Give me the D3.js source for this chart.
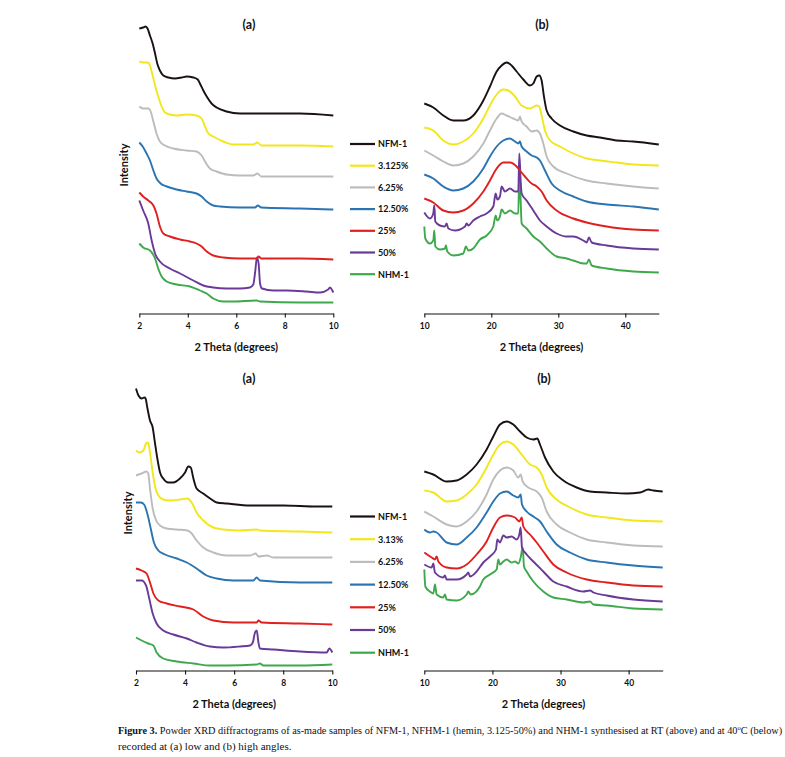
<!DOCTYPE html>
<html>
<head>
<meta charset="utf-8">
<script src="https://cdn.jsdelivr.net/npm/d3@7"></script>
<style>
  body { margin: 0; background: #fff; }
  svg { display: block; }
  .lbl { font-family: Lato, "Open Sans", sans-serif; font-weight: 700; fill: #111; }
  .cap { font-family: "Liberation Serif", "DejaVu Serif", serif; fill: #111; }
</style>
</head>
<body>
<div id="viz"></div>
<script>
// series names / legend labels
var seriesKeys = ["NFM-1", "3.125%", "6.25%", "12.50%", "25%", "50%", "NHM-1"];
var legendTop = ["NFM-1", "3.125%", "6.25%", "12.50%", "25%", "50%", "NHM-1"];
var legendBottom = ["NFM-1", "3.13%", "6.25%", "12.50%", "25%", "50%", "NHM-1"];
var colors = ["#1a1212", "#f2e61c", "#bcbcbc", "#2a74b2", "#e0201f", "#6a3a98", "#3ea84c"];

var lowTicks = [2, 4, 6, 8, 10];
var highTicks = [10, 20, 30, 40];

// ---- RT, low angle (2theta, intensity a.u.) ----
var rtLow_NFM = [[2.00,285],[2.16,286],[2.26,287],[2.34,285],[2.44,278],[2.55,270],[2.65,260],[2.74,250],[2.85,243],[2.99,238],[3.20,236],[3.47,235],[3.75,236],[3.95,237],[4.23,236],[4.41,234],[4.50,230],[4.64,223],[4.78,217],[4.98,210],[5.19,206],[5.60,202],[6.15,200],[7.25,200],[8.63,200],[10.0,198]];
var rtLow_3 = [[2.00,252],[2.16,251],[2.37,251],[2.44,248],[2.55,238],[2.65,228],[2.78,217],[2.92,207],[3.06,201],[3.26,199],[3.54,198],[3.95,199],[4.36,198],[4.57,195],[4.71,187],[4.85,180],[5.05,177],[5.46,172],[5.88,169],[6.70,169],[6.87,171],[7.03,168],[8.63,168],[10.0,167]];
var rtLow_6 = [[2.00,207],[2.16,205],[2.37,205],[2.47,202],[2.58,192],[2.71,180],[2.85,172],[3.06,168],[3.40,165],[3.95,163],[4.36,162],[4.57,158],[4.71,152],[4.91,145],[5.19,142],[5.60,139],[6.15,138],[6.70,138],[6.87,140],[7.03,137],[8.63,137],[10.0,137]];
var rtLow_12 = [[2.00,171],[2.14,167],[2.30,160],[2.44,153],[2.58,143],[2.71,135],[2.88,130],[3.13,127],[3.54,124],[3.95,122],[4.36,120],[4.57,117],[4.78,112],[5.05,108],[5.33,107],[6.15,106],[6.77,106],[6.89,108],[7.03,106],[8.63,105],[10.0,104]];
var rtLow_25 = [[2.00,121],[2.16,117],[2.37,113],[2.58,108],[2.71,100],[2.85,87],[2.99,80],[3.26,77],[3.68,74],[4.09,72],[4.36,70],[4.57,67],[4.78,62],[5.05,58],[5.46,56],[6.15,55],[6.84,55],[6.92,57],[7.03,55],[8.63,55],[10.0,54]];
var rtLow_50 = [[2.00,113],[2.16,103],[2.37,90],[2.51,73],[2.65,60],[2.85,52],[3.26,45],[3.68,40],[4.23,33],[4.64,28],[5.05,26],[5.60,25],[6.15,25],[6.56,26],[6.70,29],[6.78,42],[6.85,56],[6.92,50],[6.98,30],[7.06,25],[7.53,23],[8.08,23],[8.90,22],[9.45,21],[9.79,24],[9.86,26],[9.96,23],[10.0,21]];
var rtLow_NHM = [[2.00,70],[2.16,66],[2.44,63],[2.65,55],[2.78,45],[2.92,37],[3.13,32],[3.54,29],[4.09,27],[4.50,23],[4.78,20],[5.05,15],[5.46,12],[5.88,12],[6.84,13],[6.98,12],[8.63,11],[10.0,11]];

// ---- RT, high angle ----
var rtHigh_NFM = [[10.0,210],[11.34,206],[12.84,198],[14.33,193],[15.82,193],[17.31,198],[18.81,213],[19.80,227],[20.80,242],[21.54,248],[22.29,251],[23.03,248],[23.78,242],[24.78,234],[25.77,228],[26.27,230],[26.77,237],[27.16,238],[27.51,233],[27.86,217],[28.26,203],[29.00,195],[30.25,188],[32.24,182],[34.23,178],[36.22,176],[38.71,173],[41.19,172],[45.0,169]];
var rtHigh_3 = [[10.0,186],[11.34,183],[12.84,173],[14.33,169],[15.82,172],[17.31,180],[18.81,195],[19.80,208],[20.80,219],[21.79,224],[22.54,223],[23.53,217],[24.53,208],[25.77,205],[26.77,208],[27.16,207],[27.51,198],[28.01,183],[28.76,173],[30.25,167],[32.24,160],[34.23,155],[36.22,153],[38.71,151],[41.19,149],[45.0,148]];
var rtHigh_6 = [[10.0,163],[11.34,158],[12.84,152],[14.33,148],[15.82,150],[17.31,157],[18.81,170],[19.80,183],[20.80,195],[21.54,200],[22.29,198],[23.28,195],[24.03,193],[24.28,197],[24.53,192],[25.27,187],[26.02,182],[26.77,183],[27.26,180],[27.76,170],[28.26,157],[29.25,147],[31.24,140],[34.23,133],[37.21,130],[41.19,127],[45.0,125]];
var rtHigh_12 = [[10.0,139],[11.34,135],[12.84,127],[14.33,123],[15.82,125],[17.31,132],[18.81,145],[19.80,157],[20.80,167],[21.79,173],[22.79,175],[23.53,172],[24.03,170],[24.28,172],[24.53,167],[25.27,162],[26.02,158],[26.77,156],[27.26,153],[28.01,143],[29.00,130],[30.25,123],[32.24,117],[34.23,112],[37.21,109],[41.19,107],[45.0,104]];
var rtHigh_25 = [[10.0,115],[11.34,111],[12.84,103],[14.33,101],[15.82,103],[17.31,110],[18.81,122],[19.80,133],[20.80,145],[21.79,151],[22.79,151],[23.78,147],[24.28,143],[25.02,137],[26.02,130],[26.77,127],[27.51,122],[28.26,113],[29.75,103],[32.24,95],[34.23,91],[37.21,87],[41.19,84],[45.0,83]];
var rtHigh_50 = [[10.0,101],[10.85,95],[11.34,100],[11.49,108],[11.64,92],[12.34,88],[13.08,87],[13.33,90],[13.58,85],[14.58,83],[16.07,87],[16.32,90],[16.57,88],[17.31,93],[18.31,97],[19.30,100],[20.30,107],[20.65,120],[20.90,114],[21.29,117],[21.54,127],[22.04,122],[22.79,125],[23.53,122],[24.03,122],[24.18,160],[24.38,133],[24.53,120],[25.27,113],[26.27,103],[27.26,93],[28.26,87],[29.75,80],[31.24,77],[32.24,77],[33.73,73],[34.23,71],[34.58,76],[34.98,71],[37.21,68],[41.19,65],[45.0,64]];
var rtHigh_NHM = [[10.0,87],[10.15,75],[10.85,70],[11.34,73],[11.49,83],[11.64,67],[12.34,64],[13.08,65],[13.23,68],[13.43,62],[14.33,58],[15.82,60],[16.22,67],[16.57,63],[17.31,65],[18.31,74],[19.30,78],[20.30,87],[20.65,98],[20.90,93],[21.29,97],[21.54,104],[22.04,100],[22.79,103],[23.53,100],[24.03,100],[24.18,145],[24.38,113],[24.53,90],[25.27,85],[26.27,77],[27.26,72],[28.26,65],[29.75,57],[31.24,55],[32.24,53],[33.73,50],[34.23,50],[34.58,54],[34.98,48],[37.21,45],[41.19,42],[45.0,41]];

// ---- 40 C, low angle ----
var hotLow_NFM = [[2.00,282],[2.10,275],[2.23,272],[2.34,273],[2.39,272],[2.46,263],[2.57,250],[2.68,243],[2.77,228],[2.87,212],[2.98,198],[3.11,192],[3.32,188],[3.52,188],[3.79,192],[4.00,198],[4.13,204],[4.23,203],[4.34,192],[4.47,182],[4.74,177],[5.02,172],[5.29,168],[5.70,167],[6.65,165],[8.01,165],[9.36,164],[10.0,164]];
var hotLow_3 = [[2.00,220],[2.14,218],[2.30,220],[2.41,227],[2.49,228],[2.57,218],[2.68,198],[2.77,185],[2.91,175],[3.11,171],[3.39,170],[3.79,171],[4.09,172],[4.27,168],[4.47,158],[4.74,150],[5.15,143],[5.56,141],[6.24,140],[6.92,141],[7.05,140],[8.68,139],[10.0,138]];
var hotLow_6 = [[2.00,195],[2.23,197],[2.43,199],[2.50,197],[2.57,182],[2.68,162],[2.82,150],[2.98,145],[3.25,142],[3.66,141],[4.09,140],[4.27,137],[4.47,130],[4.74,123],[5.15,118],[5.70,115],[6.65,115],[6.88,117],[6.99,114],[7.33,115],[7.60,113],[8.68,113],[10.0,113]];
var hotLow_12 = [[2.00,168],[2.19,168],[2.33,166],[2.46,157],[2.60,142],[2.73,128],[2.91,120],[3.18,116],[3.66,112],[4.07,108],[4.47,102],[4.88,95],[5.29,92],[5.97,90],[6.78,90],[6.92,93],[7.05,90],[8.68,88],[10.0,88]];
var hotLow_25 = [[2.00,102],[2.23,100],[2.43,97],[2.57,88],[2.71,77],[2.91,70],[3.25,67],[3.79,64],[4.34,61],[4.74,54],[5.15,50],[5.97,48],[6.92,48],[6.99,50],[7.12,48],[8.68,47],[10.0,46]];
var hotLow_50 = [[2.00,90],[2.23,90],[2.41,85],[2.54,72],[2.68,57],[2.84,47],[3.11,40],[3.52,36],[4.07,32],[4.47,28],[5.02,24],[5.56,23],[6.24,24],[6.65,25],[6.76,28],[6.85,38],[6.92,40],[6.99,28],[7.05,22],[7.60,21],[8.68,19],[9.77,18],[9.88,22],[10.0,18]];
var hotLow_NHM = [[2.00,33],[2.23,30],[2.50,27],[2.71,25],[2.84,18],[3.11,12],[3.66,9],[4.34,7],[5.02,5],[5.70,5],[6.92,6],[7.05,7],[7.19,5],[8.68,5],[10.0,6]];

// ---- 40 C, high angle ----
var hotHigh_NFM = [[10.0,199],[11.32,196],[13.28,189],[14.75,190],[16.22,196],[17.68,206],[19.15,221],[20.13,234],[21.11,246],[22.09,249],[23.07,246],[24.05,239],[25.03,233],[26.01,231],[26.59,232],[26.98,226],[27.72,213],[28.94,199],[30.41,190],[32.37,183],[34.33,179],[36.77,178],[39.71,177],[41.67,178],[42.89,181],[43.63,180],[45.0,179]];
var hotHigh_3 = [[10.0,180],[11.32,178],[13.28,169],[14.75,170],[16.22,176],[17.68,186],[19.15,203],[20.13,216],[21.11,226],[22.09,229],[23.07,226],[24.29,216],[25.52,206],[26.50,203],[27.23,196],[27.96,183],[29.43,171],[31.39,163],[33.84,156],[36.77,153],[40.69,150],[45.0,149]];
var hotHigh_6 = [[10.0,159],[11.32,154],[13.28,146],[14.75,144],[16.22,149],[17.68,159],[19.15,176],[20.13,191],[21.11,200],[22.09,203],[23.07,200],[23.80,193],[24.15,196],[24.44,189],[25.27,183],[26.50,179],[27.23,173],[27.96,159],[29.43,146],[31.39,138],[33.84,131],[36.77,128],[40.69,125],[45.0,124]];
var hotHigh_12 = [[10.0,141],[10.83,138],[11.32,139],[11.81,138],[13.28,128],[14.75,126],[16.22,133],[17.68,143],[19.15,158],[20.13,169],[21.11,177],[22.09,179],[23.07,175],[23.80,173],[24.15,176],[24.34,166],[25.03,159],[26.01,154],[27.00,149],[27.96,139],[29.43,126],[31.39,118],[33.84,111],[36.77,108],[40.69,105],[45.0,103]];
var hotHigh_25 = [[10.0,118],[11.08,113],[11.57,111],[11.81,114],[12.06,109],[13.28,103],[14.75,102],[16.22,106],[17.68,116],[19.15,129],[20.13,143],[21.11,153],[22.09,155],[23.31,153],[23.95,149],[24.29,153],[24.54,144],[25.52,136],[26.50,128],[27.47,119],[28.94,106],[30.90,98],[33.84,91],[36.77,88],[40.69,85],[45.0,84]];
var hotHigh_50 = [[10.0,106],[11.08,103],[11.32,107],[11.57,98],[12.79,93],[13.03,95],[13.28,91],[14.75,91],[16.22,96],[16.46,98],[16.71,94],[17.68,99],[18.66,108],[19.64,114],[20.52,121],[20.72,131],[21.11,128],[21.60,135],[22.09,133],[22.82,134],[23.56,131],[23.95,136],[24.15,143],[24.34,123],[25.03,116],[26.01,109],[27.47,99],[28.94,89],[30.90,84],[33.35,79],[34.33,80],[34.82,78],[36.77,75],[40.69,71],[45.0,69]];
var hotHigh_NHM = [[10.0,101],[10.15,84],[10.83,79],[11.32,77],[11.57,86],[11.81,76],[12.79,73],[13.03,76],[13.28,71],[14.75,70],[16.22,76],[16.46,79],[16.80,76],[18.17,84],[18.66,91],[19.64,96],[20.62,101],[20.87,111],[21.11,106],[21.60,109],[22.09,111],[22.82,108],[23.31,109],[23.80,107],[24.15,113],[24.44,123],[24.64,104],[25.03,99],[26.01,89],[27.47,79],[28.94,73],[30.90,71],[33.35,68],[34.33,69],[34.82,66],[36.77,65],[40.69,62],[45.0,61]];

var panels = [
  { title: "(a)", domain: [2, 10], ticks: lowTicks, x0: 139.3, x1: 333.3, axisY: 313.5, titleX: 249, titleY: 29,
    series: [rtLow_NFM, rtLow_3, rtLow_6, rtLow_12, rtLow_25, rtLow_50, rtLow_NHM] },
  { title: "(b)", domain: [10, 45], ticks: highTicks, x0: 424.3, x1: 658.8, axisY: 313.5, titleX: 542, titleY: 29,
    series: [rtHigh_NFM, rtHigh_3, rtHigh_6, rtHigh_12, rtHigh_25, rtHigh_50, rtHigh_NHM] },
  { title: "(a)", domain: [2, 10], ticks: lowTicks, x0: 136, x1: 332.3, axisY: 670.5, titleX: 249, titleY: 383,
    series: [hotLow_NFM, hotLow_3, hotLow_6, hotLow_12, hotLow_25, hotLow_50, hotLow_NHM] },
  { title: "(b)", domain: [10, 45], ticks: highTicks, x0: 424.3, x1: 662.7, axisY: 670.5, titleX: 544, titleY: 383,
    series: [hotHigh_NFM, hotHigh_3, hotHigh_6, hotHigh_12, hotHigh_25, hotHigh_50, hotHigh_NHM] }
];

var svg = d3.select("#viz").append("svg")
  .attr("width", 785)
  .attr("height", 757);

panels.forEach(function (p) {
  var x = d3.scaleLinear().domain(p.domain).range([p.x0, p.x1]);
  var y = d3.scaleLinear().domain([0, 300]).range([p.axisY, p.axisY - 300]);
  var line = d3.line()
    .x(function (d) { return x(d[0]); })
    .y(function (d) { return y(d[1]); })
    .curve(d3.curveMonotoneX);

  var g = svg.append("g");

  var axis = d3.axisBottom(x).tickValues(p.ticks).tickSize(4).tickSizeOuter(0).tickPadding(5);
  var ax = g.append("g")
    .attr("transform", "translate(0," + p.axisY + ")")
    .call(axis);
  ax.select(".domain").attr("stroke", "#111").attr("stroke-width", 1.1);
  ax.selectAll(".tick line").attr("stroke", "#111").attr("stroke-width", 1.1);
  ax.selectAll(".tick text")
    .attr("class", "lbl")
    .style("font-size", "8.5px");

  // draw bottom series first so upper curves sit on top
  for (var i = p.series.length - 1; i >= 0; i--) {
    g.append("path")
      .datum(p.series[i])
      .attr("fill", "none")
      .attr("stroke", colors[i])
      .attr("stroke-width", 1.9)
      .attr("stroke-linejoin", "round")
      .attr("d", line);
  }

  g.append("text")
    .attr("class", "lbl")
    .attr("x", p.titleX)
    .attr("y", p.titleY)
    .attr("text-anchor", "middle")
    .style("font-size", "12.5px")
    .text(p.title);

  g.append("text")
    .attr("class", "lbl")
    .attr("x", (p.x0 + p.x1) / 2)
    .attr("y", p.axisY + 37)
    .attr("text-anchor", "middle")
    .style("font-size", "11px")
    .text("2 Theta (degrees)");
});

// y titles
[[124, 165], [128, 513]].forEach(function (c) {
  svg.append("text")
    .attr("class", "lbl")
    .attr("transform", "translate(" + (c[0] + 4) + "," + c[1] + ") rotate(-90)")
    .attr("text-anchor", "middle")
    .style("font-size", "11px")
    .text("Intensity");
});

// legends
function drawLegend(labels, top, step) {
  var lg = svg.append("g");
  labels.forEach(function (t, i) {
    var yy = top + i * step;
    lg.append("line")
      .attr("x1", 350).attr("x2", 375)
      .attr("y1", yy).attr("y2", yy)
      .attr("stroke", colors[i])
      .attr("stroke-width", 2.2);
    lg.append("text")
      .attr("class", "lbl")
      .attr("x", 378)
      .attr("y", yy + 3.3)
      .style("font-size", "9px")
      .text(t);
  });
}
drawLegend(legendTop, 144, 21.7);
drawLegend(legendBottom, 516.5, 22.7);

// caption: first line is stretched by a horizontal scale so it spans 118..783
var capG = svg.append("g");
var cap = capG.append("text").attr("class", "cap")
  .attr("x", 0).attr("y", 0)
  .style("font-size", "11px");
cap.append("tspan").style("font-weight", "700").text("Figure 3.");
cap.append("tspan").text(" Powder XRD diffractograms of as-made samples of NFM-1, NFHM-1 (hemin, 3.125-50%) and NHM-1 synthesised at RT (above) and at 40");
cap.append("tspan").attr("dy", -4).style("font-size", "7px").text("o");
cap.append("tspan").attr("dy", 4).text("C (below)");
var w = cap.node().getComputedTextLength();
capG.attr("transform", "translate(118,734) scale(" + (665 / w) + ",1)");

var cap2G = svg.append("g").attr("transform", "translate(118,750)");
cap2G.append("text").attr("class", "cap")
  .style("font-size", "11px")
  .text("recorded at (a) low and (b) high angles.");
</script>
</body>
</html>
